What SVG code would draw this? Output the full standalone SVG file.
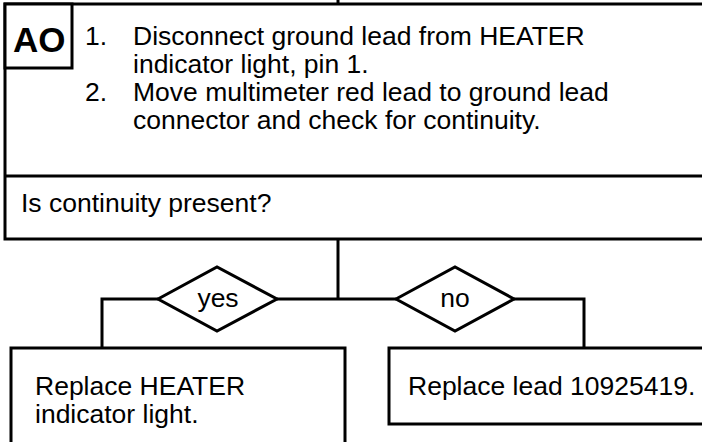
<svg xmlns="http://www.w3.org/2000/svg" width="702" height="442" viewBox="0 0 702 442">
<style>
.box{fill:#fff;stroke:#000;stroke-width:3}
.ln{fill:none;stroke:#000;stroke-width:3}
text{font-family:"Liberation Sans",Arial,sans-serif;font-size:26.5px;fill:#000}
.b{font-weight:bold;font-size:35px}
</style>
<rect width="702" height="442" fill="#fff"/>
<g id="connectors">
<path class="ln" d="M338 0V4"/>
<path class="ln" d="M338 239V299"/>
<path class="ln" d="M102 348V299H158"/>
<path class="ln" d="M277 299H396"/>
<path class="ln" d="M514 299H584V348"/>
</g>
<g id="step">
<rect class="box" x="5" y="4" width="710" height="235"/>
<path class="ln" d="M5 176H710"/>
<rect class="box" x="5" y="4" width="67" height="64"/>
<text class="b" x="13" y="52">AO</text>
<text x="85" y="45">1.</text>
<text x="133" y="45">Disconnect ground lead from HEATER</text>
<text x="133" y="73">indicator light, pin 1.</text>
<text x="85" y="101">2.</text>
<text x="133" y="101">Move multimeter red lead to ground lead</text>
<text x="133" y="129">connector and check for continuity.</text>
<text x="21" y="212">Is continuity present?</text>
</g>
<g id="yes">
<polygon class="box" points="158,299 217,267 277,299 217,331"/>
<text x="218" y="307" text-anchor="middle">yes</text>
</g>
<g id="no">
<polygon class="box" points="396,299 455,267 514,299 455,331"/>
<text x="455" y="307" text-anchor="middle">no</text>
</g>
<g id="replace-light">
<rect class="box" x="11" y="348" width="334" height="110"/>
<text x="35" y="395">Replace HEATER</text>
<text x="35" y="423">indicator light.</text>
</g>
<g id="replace-lead">
<rect class="box" x="389" y="348" width="330" height="76"/>
<text x="408" y="395">Replace lead 10925419.</text>
</g>
</svg>
